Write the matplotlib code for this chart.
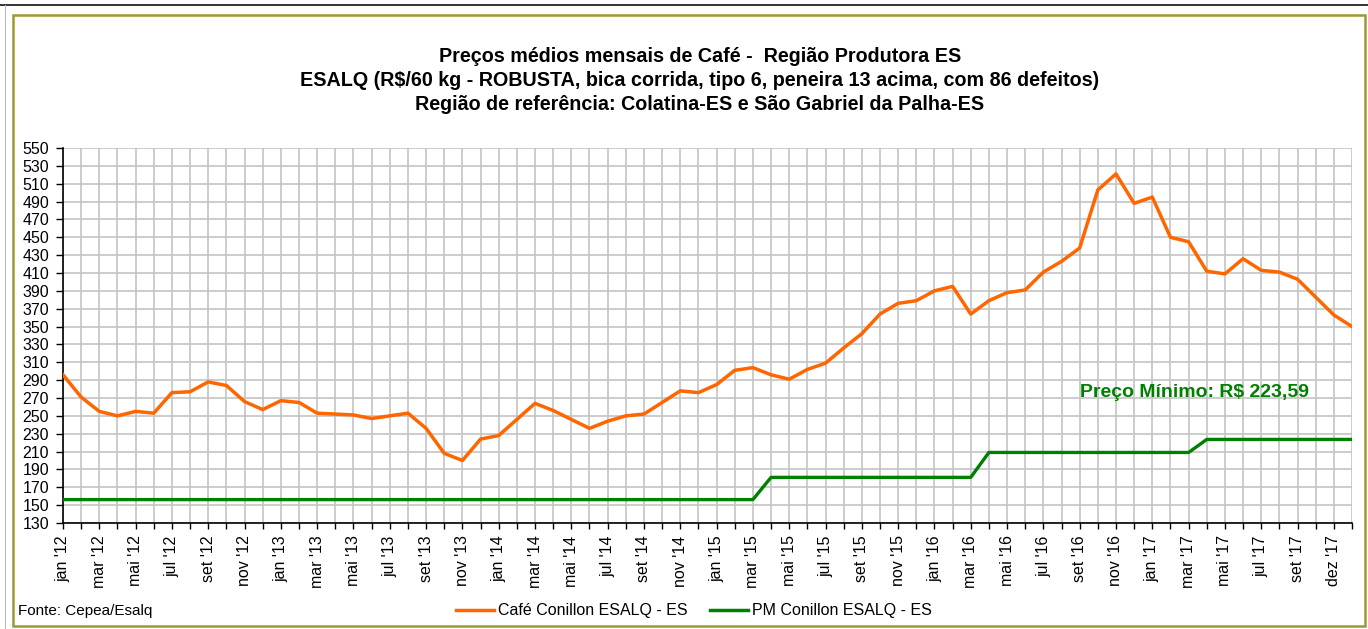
import matplotlib
matplotlib.use("Agg")
import matplotlib.pyplot as plt
from matplotlib.lines import Line2D
from matplotlib.patches import Rectangle

ORANGE = "#FF6600"
GREEN = "#008000"
OLIVE = "#9C9A33"
GRID = "#C4C4C4"

plt.rcParams["font.family"] = ["Liberation Sans", "DejaVu Sans"]

# monthly series, jan '12 onwards (72 categories)
cafe = [296, 271, 255, 250, 255, 253, 276, 277, 288, 284, 266, 257,
        267, 265, 253, 252, 251, 247, 250, 253, 236, 208, 200, 224,
        228, 246, 264, 256, 246, 236, 244, 250, 252, 265, 278, 276,
        285, 301, 304, 296, 291, 302, 309, 326, 342, 364, 376, 379,
        390, 395, 364, 379, 388, 391, 411, 423, 438, 503, 521, 488,
        495, 450, 445, 412, 409, 426, 413, 411, 403, 383, 363, 350]
pm = [156.2] * 39 + [181.1] * 12 + [209.0] * 12 + [223.59] * 9

tick_labels = ["jan '12", "mar '12", "mai '12", "jul '12", "set '12", "nov '12",
               "jan '13", "mar '13", "mai '13", "jul '13", "set '13", "nov '13",
               "jan '14", "mar '14", "mai '14", "jul '14", "set '14", "nov '14",
               "jan '15", "mar '15", "mai '15", "jul '15", "set '15", "nov '15",
               "jan '16", "mar '16", "mai '16", "jul '16", "set '16", "nov '16",
               "jan '17", "mar '17", "mai '17", "jul '17", "set '17", "dez '17"]
y_ticks = list(range(130, 551, 20))

W, H = 1368, 629
fig = plt.figure(figsize=(W / 100, H / 100), dpi=100)

# chart-area frame
fig.add_artist(Rectangle((13 / W, 1 - 626 / H), (1365 - 13) / W, (626 - 15) / H,
                         transform=fig.transFigure, fill=False, edgecolor=OLIVE, lw=1.8))
fig.add_artist(Line2D([0, 1], [1 - 5 / H, 1 - 5 / H], transform=fig.transFigure,
                      color="#111111", lw=1.2))
fig.add_artist(Line2D([5 / W, 5 / W], [0, 1 - 5 / H], transform=fig.transFigure,
                      color="#BBBBBB", lw=0.8))

ax = fig.add_axes([63 / W, 1 - 523 / H, (1352 - 63) / W, (523 - 148) / H])
x = list(range(len(cafe)))
ax.plot(x, cafe, color=ORANGE, lw=2.5, zorder=4)
ax.plot(x, pm, color=GREEN, lw=2.4, zorder=3)

ax.set_xlim(0, len(cafe) - 1)
ax.set_ylim(130, 550)
ax.set_yticks(y_ticks)
ax.set_yticklabels([str(v) for v in y_ticks], fontsize=11.5)
ax.set_xticks(x, minor=True)
ax.set_xticks(x[0:72:2])
ax.set_xticklabels(tick_labels, rotation=90, fontsize=11.5)
ax.tick_params(axis="x", which="both", length=4, width=1, direction="out", pad=5)
ax.tick_params(axis="y", length=5, width=1, pad=5)
ax.grid(True, which="both", axis="x", color=GRID, lw=1.2)
ax.grid(True, axis="y", color=GRID, lw=1.2)
ax.set_axisbelow(True)
for s in ("top", "right"):
    ax.spines[s].set_visible(False)
ax.spines["left"].set_linewidth(1.2)
ax.spines["bottom"].set_linewidth(1.2)

ax.text(56.0, 276, "Preço Mínimo: R$ 223,59", color=GREEN, fontsize=14,
        fontweight="bold", ha="left", va="center")

tx = 700 / W
fig.text(tx, 1 - 56 / H, "Preços médios mensais de Café -  Região Produtora ES",
         ha="center", va="center", fontsize=14.2, fontweight="bold")
fig.text(tx, 1 - 80 / H,
         "ESALQ (R$/60 kg - ROBUSTA, bica corrida, tipo 6, peneira 13 acima, com 86 defeitos)",
         ha="center", va="center", fontsize=14.2, fontweight="bold")
fig.text(tx, 1 - 104 / H, "Região de referência: Colatina-ES e São Gabriel da Palha-ES",
         ha="center", va="center", fontsize=14.2, fontweight="bold")

fig.text(18 / W, 1 - 611 / H, "Fonte: Cepea/Esalq", fontsize=11, va="center")
handles = [Line2D([], [], color=ORANGE, lw=2.5, label="Café Conillon ESALQ - ES"),
           Line2D([], [], color=GREEN, lw=2.5, label="PM Conillon ESALQ - ES")]
fig.legend(handles=handles, loc="center", bbox_to_anchor=(694 / W, 1 - 611 / H),
           ncol=2, frameon=False, fontsize=11.5, handlelength=2.4, handletextpad=0.25,
           columnspacing=1.4)

fig.savefig("out.png", dpi=100)
